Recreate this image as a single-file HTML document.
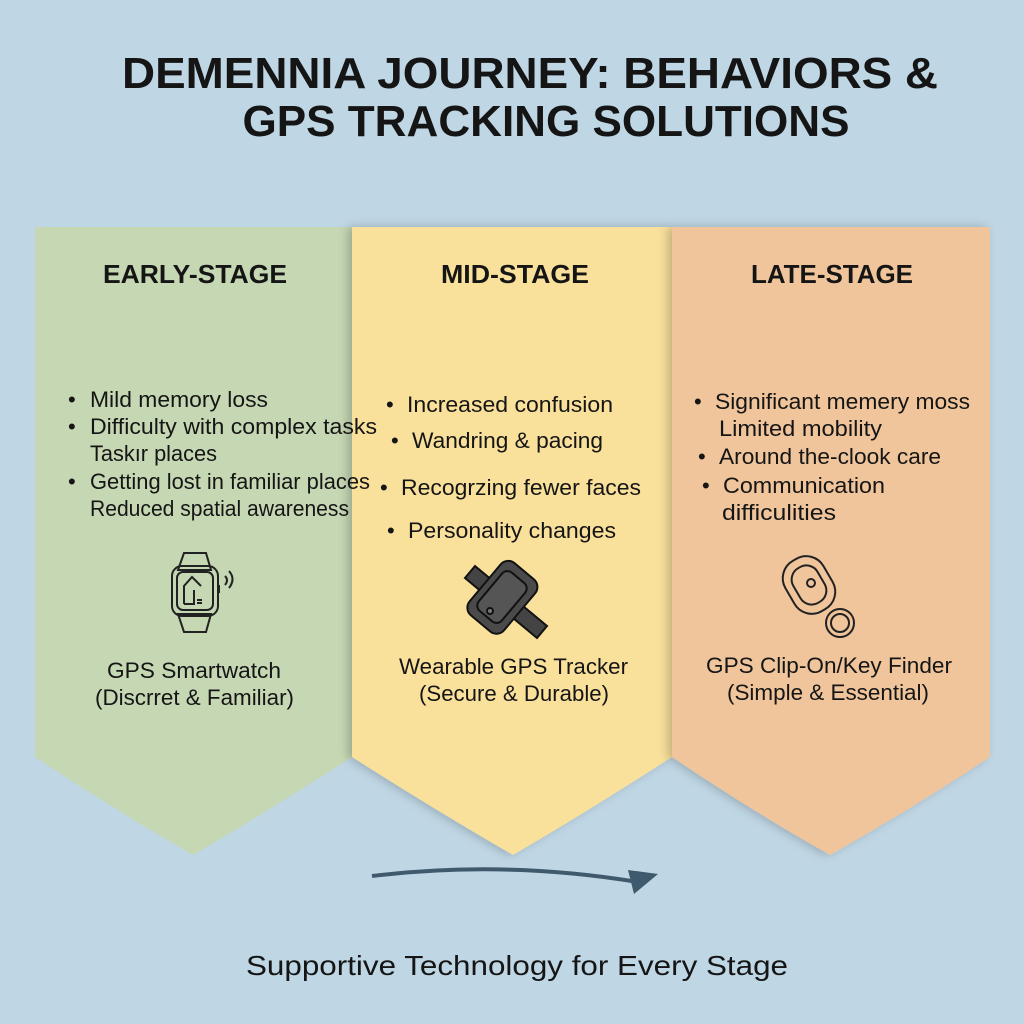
<!DOCTYPE html>
<html><head><meta charset="utf-8"><style>
html,body{margin:0;padding:0;background:#bfd6e4;}
svg{display:block}
text{font-family:"Liberation Sans",Arial,sans-serif;fill:#151515}
</style></head><body>
<svg width="1024" height="1024" viewBox="0 0 1024 1024" xmlns="http://www.w3.org/2000/svg">
<defs>
<filter id="sh" x="-10%" y="-5%" width="120%" height="110%"><feDropShadow dx="-4" dy="0" stdDeviation="5" flood-color="#000" flood-opacity="0.22"/></filter>
</defs>
<rect width="1024" height="1024" fill="#bfd6e4"/>
<text x="530" y="88" text-anchor="middle" font-size="44" font-weight="bold" textLength="816" lengthAdjust="spacingAndGlyphs">DEMENNIA JOURNEY: BEHAVIORS &amp;</text>
<text x="546" y="136" text-anchor="middle" font-size="44" font-weight="bold" textLength="607" lengthAdjust="spacingAndGlyphs">GPS TRACKING SOLUTIONS</text>

<path d="M35 227 H352 V757 Q270 810 193 855 Q115 810 35 757 Z" fill="#c5d7b3"/>
<path d="M352 227 H672 V757 Q590 810 513 855 Q435 810 352 757 Z" fill="#f9e09b" filter="url(#sh)"/>
<path d="M672 227 H990 V757 Q910 810 830 855 Q750 810 672 757 Z" fill="#f0c59b" filter="url(#sh)"/>

<g font-weight="bold" font-size="26">
<text x="103" y="283" textLength="184" lengthAdjust="spacingAndGlyphs">EARLY-STAGE</text>
<text x="441" y="283" textLength="148" lengthAdjust="spacingAndGlyphs">MID-STAGE</text>
<text x="751" y="283" textLength="162" lengthAdjust="spacingAndGlyphs">LATE-STAGE</text>
</g>

<g font-size="22">
<text x="68" y="407">•</text><text x="90" y="407" textLength="178" lengthAdjust="spacingAndGlyphs">Mild memory loss</text>
<text x="68" y="434">•</text><text x="90" y="434" textLength="287" lengthAdjust="spacingAndGlyphs">Difficulty with complex tasks</text>
<text x="90" y="461" textLength="127" lengthAdjust="spacingAndGlyphs">Taskır places</text>
<text x="68" y="489">•</text><text x="90" y="489" textLength="280" lengthAdjust="spacingAndGlyphs">Getting lost in familiar places</text>
<text x="90" y="516" textLength="259" lengthAdjust="spacingAndGlyphs">Reduced spatial awareness</text>

<text x="386" y="412">•</text><text x="407" y="412" textLength="206" lengthAdjust="spacingAndGlyphs">Increased confusion</text>
<text x="391" y="448">•</text><text x="412" y="448" textLength="191" lengthAdjust="spacingAndGlyphs">Wandring &amp; pacing</text>
<text x="380" y="495">•</text><text x="401" y="495" textLength="240" lengthAdjust="spacingAndGlyphs">Recogrzing fewer faces</text>
<text x="387" y="538">•</text><text x="408" y="538" textLength="208" lengthAdjust="spacingAndGlyphs">Personality changes</text>

<text x="694" y="409">•</text><text x="715" y="409" textLength="255" lengthAdjust="spacingAndGlyphs">Significant memery moss</text>
<text x="719" y="436" textLength="163" lengthAdjust="spacingAndGlyphs">Limited mobility</text>
<text x="698" y="464">•</text><text x="719" y="464" textLength="222" lengthAdjust="spacingAndGlyphs">Around the-clook care</text>
<text x="702" y="493">•</text><text x="723" y="493" textLength="162" lengthAdjust="spacingAndGlyphs">Communication</text>
<text x="722" y="520" textLength="114" lengthAdjust="spacingAndGlyphs">difficulities</text>
</g>

<!-- watch -->
<g fill="none" stroke="#222" stroke-width="2">
<path d="M184 553 H206 L211 570 H178 Z"/>
<path d="M178 614 H211 L206 632 H184 Z"/>
<rect x="172" y="566" width="46" height="50" rx="10"/>
<rect x="177" y="572" width="36" height="38" rx="6"/>
<path d="M184 604 V586 L192 577 L201 586"/>
<path d="M184 604 H194 V590"/>
<path d="M197 600 h5 M197 603 h5"/>
<path d="M219 585 v8"/>
<path d="M225 576 q4 4 0 9 M229 571 q7 8 0 17"/>
</g>
<!-- tracker -->
<g stroke="#111" stroke-width="2">
<path d="M465 578 l10 -12 l72 60 l-10 12 Z" fill="#444"/>
<rect x="480" y="563" width="45" height="68" rx="10" transform="rotate(40 502 597)" fill="#4a4a4a"/>
<rect x="487" y="572" width="30" height="50" rx="7" transform="rotate(40 502 597)" fill="#555"/>
<circle cx="490" cy="611" r="3" fill="#777"/>
</g>
<!-- key finder -->
<g fill="none" stroke="#222" stroke-width="2">
<rect x="787" y="556" width="44" height="58" rx="20" transform="rotate(-30 809 585)"/>
<rect x="795" y="565" width="28" height="40" rx="13" transform="rotate(-30 809 585)"/>
<circle cx="811" cy="583" r="4"/>
<circle cx="840" cy="623" r="14"/>
<circle cx="840" cy="623" r="9"/>
</g>

<g font-size="22">
<text x="107" y="678" textLength="174" lengthAdjust="spacingAndGlyphs">GPS Smartwatch</text>
<text x="95" y="705" textLength="199" lengthAdjust="spacingAndGlyphs">(Discrret &amp; Familiar)</text>
<text x="399" y="674" textLength="229" lengthAdjust="spacingAndGlyphs">Wearable GPS Tracker</text>
<text x="419" y="701" textLength="190" lengthAdjust="spacingAndGlyphs">(Secure &amp; Durable)</text>
<text x="706" y="673" textLength="246" lengthAdjust="spacingAndGlyphs">GPS Clip-On/Key Finder</text>
<text x="727" y="700" textLength="202" lengthAdjust="spacingAndGlyphs">(Simple &amp; Essential)</text>
</g>

<path d="M372 876 Q505 860 638 882" fill="none" stroke="#3f5a6c" stroke-width="4"/>
<path d="M628 870 L658 874 L634 894 Z" fill="#3f5a6c"/>

<text x="246" y="975" font-size="28" textLength="542" lengthAdjust="spacingAndGlyphs">Supportive Technology for Every Stage</text>
</svg>
</body></html>
